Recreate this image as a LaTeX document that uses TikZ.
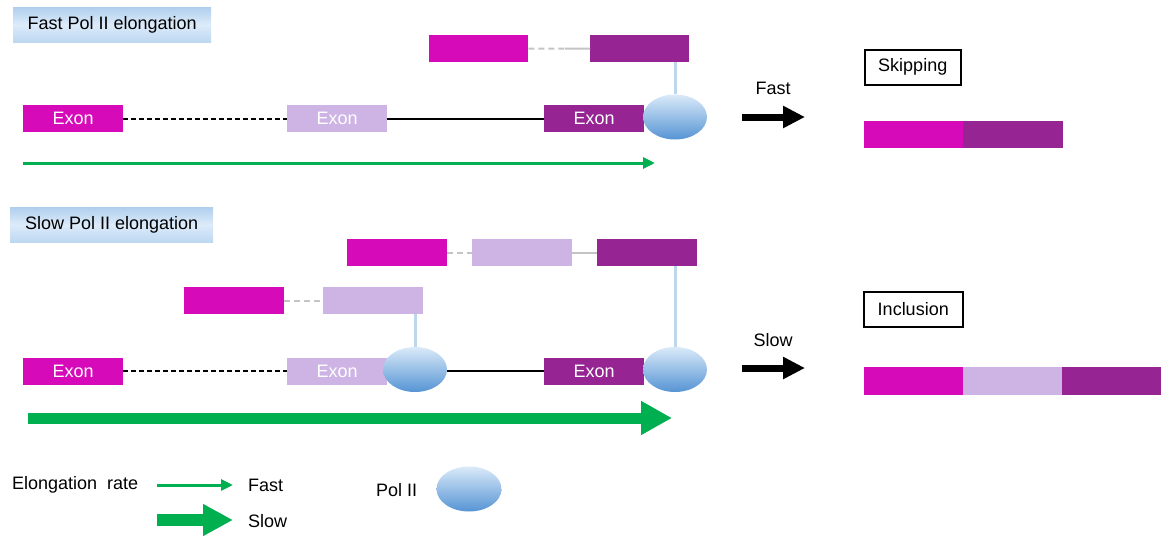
\documentclass[tikz,border=0pt]{standalone}
\usepackage{fontspec}
\setmainfont{Liberation Sans}
\usetikzlibrary{arrows.meta,shapes.geometric}
\definecolor{exA}{RGB}{214,10,185}
\definecolor{exB}{RGB}{205,180,228}
\definecolor{exC}{RGB}{150,36,147}
\definecolor{polTop}{RGB}{218,234,249}
\definecolor{polBot}{RGB}{86,148,212}
\definecolor{tether}{RGB}{189,215,238}
\definecolor{grn}{RGB}{0,176,80}
\definecolor{hdrA}{RGB}{176,207,237}
\definecolor{hdrB}{RGB}{220,235,250}
\definecolor{linkgray}{RGB}{196,196,196}
\begin{document}
\begin{tikzpicture}[x=1pt,y=-1pt,
  txt/.style={font=\fontsize{18}{21}\selectfont, inner sep=0pt},
  exon/.style={rectangle, anchor=north west, minimum width=100pt, minimum height=27pt,
    inner sep=0pt, text=white, font=\fontsize{18}{21}\selectfont},
  bar/.style={rectangle, anchor=north west, minimum width=99pt, minimum height=27pt, inner sep=0pt},
  pol/.style={ellipse, minimum width=64pt, minimum height=45pt, inner sep=0pt,
    top color=polTop, bottom color=polBot, draw=none},
  hdr/.style={rectangle, anchor=north west, minimum height=35pt, inner sep=0pt,
    top color=hdrA, bottom color=hdrA!70!hdrB, middle color=hdrB,
    font=\fontsize{18}{21}\selectfont},
  outcome/.style={rectangle, anchor=north west, draw=black, line width=1.5pt, fill=white,
    minimum height=35pt, inner sep=0pt, font=\fontsize{18}{21}\selectfont},
  intron/.style={line width=2.2pt, black},
  introncut/.style={line width=2.2pt, black, dash pattern=on 5pt off 3pt},
  link/.style={line width=2pt, linkgray},
  linkcut/.style={line width=2pt, linkgray, dash pattern=on 6pt off 4pt},
  tie/.style={line width=3pt, tether},
  thinrate/.style={line width=3pt, grn, -{Triangle[length=12pt,width=11pt]}},
  thickrate/.style={line width=11pt, grn, -{Triangle[length=31pt,width=32pt]}},
  result/.style={line width=7pt, black, -{Triangle[length=22pt,width=21pt]}}
]
\useasboundingbox (0,0) rectangle (1162,536);

% ---------- fast elongation ----------
\node[hdr, minimum width=198pt] (hfast) at (13,7) {Fast Pol II elongation};

\node[exon, fill=exA] (fa) at (23,105) {Exon};
\node[exon, fill=exB] (fb) at (287,105) {Exon};
\node[exon, fill=exC] (fc) at (544,105) {Exon};
\node[pol] (fp) at (675,117) {};
\draw[introncut] (fa.east) -- (fb.west);
\draw[intron] (fb.east) -- (fc.west);

\node[bar, fill=exA] (fta) at (429,35) {};
\node[bar, fill=exC] (ftc) at (590,35) {};
\coordinate (ftm) at (565,48.5);
\draw[linkcut] (fta.east) -- (ftm);
\draw[link] (ftm) -- (ftc.west);
\draw[tie] (fp.north) -- (fp.north |- ftc.south);

\coordinate (fg0) at (23,163);
\coordinate (fg1) at (655,163);
\draw[thinrate] (fg0) -- (fg1);

\coordinate (fr0) at (742,117);
\coordinate (fr1) at (805,117);
\draw[result] (fr0) -- (fr1);
\node[txt] (lfast) at (773,88) {Fast};

\node[outcome, minimum width=96pt] (skip) at (864,49) {Skipping};
\node[bar, fill=exA] (sk1) at (864,121) {};
\node[bar, fill=exC, minimum width=100pt] (sk2) at (963,121) {};

% ---------- slow elongation ----------
\node[hdr, minimum width=203pt] (hslow) at (10,207) {Slow Pol II elongation};

\node[bar, fill=exA, minimum width=100pt] (sta) at (347,239) {};
\node[bar, fill=exB, minimum width=100pt] (stb) at (472,239) {};
\node[bar, fill=exC, minimum width=100pt] (stc) at (597,239) {};
\draw[linkcut] (sta.east) -- (stb.west);
\draw[link] (stb.east) -- (stc.west);

\node[bar, fill=exA, minimum width=100pt] (sma) at (184,287) {};
\node[bar, fill=exB, minimum width=100pt] (smb) at (323,287) {};
\draw[linkcut] (sma.east) -- (smb.west);

\node[exon, fill=exA] (sa) at (23,357.5) {Exon};
\node[exon, fill=exB] (sb) at (287,357.5) {Exon};
\node[exon, fill=exC] (sc) at (544,357.5) {Exon};
\draw[introncut] (sa.east) -- (sb.west);
\node[pol] (sp1) at (415,369.5) {};
\node[pol] (sp2) at (675,369.5) {};
\draw[intron] (sc.west -| sp1.east) -- (sc.west);
\draw[tie] (sp1.north) -- (sp1.north |- smb.south);
\draw[tie] (sp2.north) -- (sp2.north |- stc.south);

\coordinate (sg0) at (28,418);
\coordinate (sg1) at (672,418);
\draw[thickrate] (sg0) -- (sg1);

\coordinate (sr0) at (742,368);
\coordinate (sr1) at (805,368);
\draw[result] (sr0) -- (sr1);
\node[txt] (lslow) at (773,340) {Slow};

\node[outcome, minimum width=99pt] (incl) at (863,291) {Inclusion};
\node[bar, fill=exA, minimum height=28pt] (in1) at (864,367) {};
\node[bar, fill=exB, minimum height=28pt] (in2) at (963,367) {};
\node[bar, fill=exC, minimum height=28pt] (in3) at (1062,367) {};

% ---------- legend ----------
\node[txt, anchor=west] (lrate) at (12,485) {Elongation\ \ rate};
\coordinate (lg0) at (157,485);
\coordinate (lg1) at (233,485);
\draw[thinrate] (lg0) -- (lg1);
\node[txt, anchor=west] (lgf) at (248,485) {Fast};
\coordinate (lh0) at (157,520);
\coordinate (lh1) at (233,520);
\draw[line width=12pt, grn, -{Triangle[length=30pt,width=30pt]}] (lh0) -- (lh1);
\node[txt, anchor=west] (lgs) at (248,521) {Slow};

\node[txt, anchor=west] (lpol) at (376,490) {Pol II};
\node[pol, minimum width=65pt] (lp) at (469,489) {};
\end{tikzpicture}
\end{document}
